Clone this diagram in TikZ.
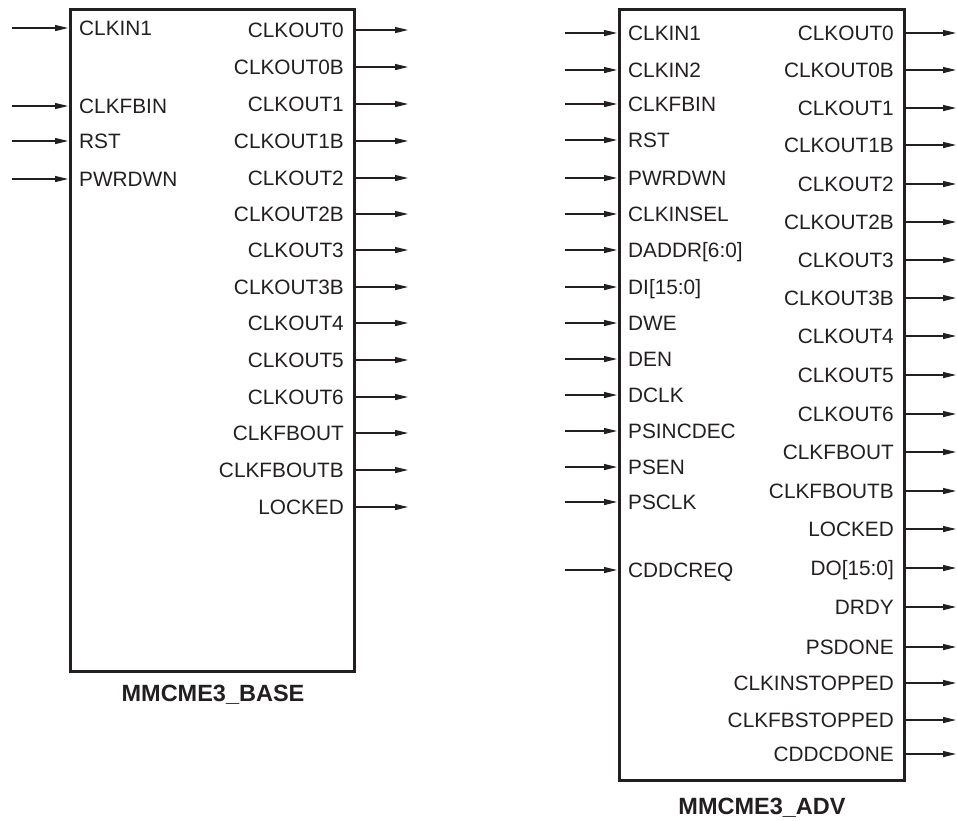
\documentclass[tikz,border=0pt]{standalone}
\usepackage{fontspec}
\setmainfont{Liberation Sans}
\usetikzlibrary{positioning,arrows.meta}
\definecolor{pinink}{HTML}{231F20}

\tikzset{
  block/.style={draw=pinink, line width=2.6pt, anchor=north west, inner sep=0pt},
  pinlabel/.style={inner ysep=0pt, text=pinink, font=\fontsize{20.8}{22}\selectfont,
    text height=14.9pt, text depth=0pt},
  pinin/.style={pinlabel, anchor=west, inner xsep=11pt},
  pinout/.style={pinlabel, anchor=east, inner xsep=10pt},
  sig/.style={draw=pinink, line width=1.2pt, -{Triangle[length=13pt,width=6pt]}},
  blockname/.style={text=pinink, font=\fontsize{23.5}{25}\selectfont\bfseries}
}

\begin{document}
\begin{tikzpicture}[x=1pt, y=-1pt]
    \useasboundingbox (0,0) rectangle (957,820);

    % MMCME3_BASE
    \node[block, minimum width=284pt, minimum height=662pt] (base) at (69,8) {};
    \node[blockname] (basename) at (213,695) {MMCME3\_BASE};
    \foreach \txt/\y [count=\i] in {CLKIN1/28, CLKFBIN/106, RST/141, PWRDWN/179} {
        \coordinate (bsrc\i) at (12,\y);
        \node[pinin] (bin\i) at (68,\y) {\txt};
        \draw[sig] (bsrc\i) -- (bin\i.west);
    }
    \foreach \txt/\y [count=\i] in {CLKOUT0/30, CLKOUT0B/67, CLKOUT1/104, CLKOUT1B/141,
        CLKOUT2/178, CLKOUT2B/214, CLKOUT3/250, CLKOUT3B/287, CLKOUT4/323,
        CLKOUT5/360, CLKOUT6/397, CLKFBOUT/433, CLKFBOUTB/470, LOCKED/507} {
        \coordinate (bdst\i) at (408,\y);
        \node[pinout] (bout\i) at (354,\y) {\txt};
        \draw[sig] (bout\i.east) -- (bdst\i);
    }

    % MMCME3_ADV
    \node[block, minimum width=285pt, minimum height=771pt] (adv) at (618,8) {};
    \node[blockname] (advname) at (762,808) {MMCME3\_ADV};
    \foreach \txt/\y [count=\i] in {CLKIN1/33, CLKIN2/70, CLKFBIN/104, RST/140,
        PWRDWN/178, CLKINSEL/214, {DADDR[6:0]}/250, {DI[15:0]}/287, DWE/323,
        DEN/359, DCLK/395, PSINCDEC/431, PSEN/467, PSCLK/502, CDDCREQ/570} {
        \coordinate (asrc\i) at (565,\y);
        \node[pinin] (ain\i) at (617,\y) {\txt};
        \draw[sig] (asrc\i) -- (ain\i.west);
    }
    \foreach \txt/\y [count=\i] in {CLKOUT0/33, CLKOUT0B/70, CLKOUT1/108, CLKOUT1B/145,
        CLKOUT2/184, CLKOUT2B/222, CLKOUT3/260, CLKOUT3B/298, CLKOUT4/336,
        CLKOUT5/375, CLKOUT6/414, CLKFBOUT/452, CLKFBOUTB/491, LOCKED/529,
        {DO[15:0]}/568, DRDY/607, PSDONE/647, CLKINSTOPPED/683,
        CLKFBSTOPPED/720, CDDCDONE/754} {
        \coordinate (adst\i) at (956,\y);
        \node[pinout] (aout\i) at (904,\y) {\txt};
        \draw[sig] (aout\i.east) -- (adst\i);
    }
\end{tikzpicture}
\end{document}
